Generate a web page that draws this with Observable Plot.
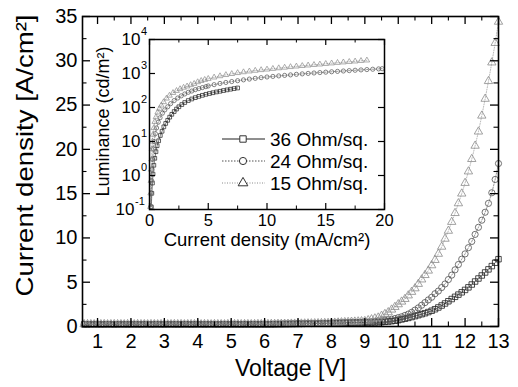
<!DOCTYPE html>
<html><head><meta charset="utf-8">
<script src="https://cdn.jsdelivr.net/npm/d3@7"></script>
<script src="https://cdn.jsdelivr.net/npm/@observablehq/plot@0.6"></script>
<style>
body{margin:0;background:#fff;}
#wrap{position:relative;width:518px;height:387px;overflow:hidden;background:#fff;}
</style></head><body><div id="wrap"></div>
<script>
// ---------- data ----------
const seriesNames = ["36 Ohm/sq.", "24 Ohm/sq.", "15 Ohm/sq."];

// main plot: voltage (V) and current density (A/cm2)
const voltage = [
  0.6,0.7,0.8,0.9,
  1.0,1.1,1.2,1.3,1.4,1.5,1.6,1.7,1.8,1.9,
  2.0,2.1,2.2,2.3,2.4,2.5,2.6,2.7,2.8,2.9,
  3.0,3.1,3.2,3.3,3.4,3.5,3.6,3.7,3.8,3.9,
  4.0,4.1,4.2,4.3,4.4,4.5,4.6,4.7,4.8,4.9,
  5.0,5.1,5.2,5.3,5.4,5.5,5.6,5.7,5.8,5.9,
  6.0,6.1,6.2,6.3,6.4,6.5,6.6,6.7,6.8,6.9,
  7.0,7.1,7.2,7.3,7.4,7.5,7.6,7.7,7.8,7.9,
  8.0,8.1,8.2,8.3,8.4,8.5,8.6,8.7,8.8,8.9,
  9.0,9.1,9.2,9.3,9.4,9.5,9.6,9.7,9.8,9.9,
  10.0,10.1,10.2,10.3,10.4,10.5,10.6,10.7,10.8,10.9,
  11.0,11.1,11.2,11.3,11.4,11.5,11.6,11.7,11.8,11.9,
  12.0,12.1,12.2,12.3,12.4,12.5,12.6,12.7,12.8,12.9,
  13.0
];
const j36 = [
  0.24,0.25,0.24,0.26,
  0.25,0.24,0.25,0.26,0.25,0.24,0.25,0.26,0.25,0.24,
  0.25,0.26,0.24,0.25,0.26,0.25,0.24,0.25,0.26,0.25,
  0.24,0.25,0.26,0.25,0.24,0.25,0.26,0.25,0.24,0.25,
  0.26,0.25,0.24,0.25,0.26,0.25,0.24,0.25,0.26,0.25,
  0.25,0.26,0.25,0.24,0.25,0.26,0.25,0.26,0.25,0.26,
  0.25,0.26,0.25,0.26,0.27,0.27,0.28,0.28,0.29,0.29,
  0.30,0.30,0.31,0.31,0.32,0.32,0.33,0.34,0.35,0.36,
  0.37,0.38,0.39,0.40,0.41,0.42,0.43,0.44,0.44,0.45,
  0.45,0.45,0.45,0.46,0.47,0.50,0.53,0.56,0.60,0.65,
  0.72,0.80,0.88,0.97,1.07,1.17,1.28,1.39,1.50,1.63,
  1.78,1.95,2.15,2.37,2.60,2.85,3.10,3.35,3.60,3.86,
  4.13,4.42,4.74,5.08,5.42,5.76,6.10,6.45,6.82,7.20,
  7.60
];
const j24 = [
  0.26,0.25,0.26,0.25,
  0.24,0.26,0.25,0.25,0.26,0.25,0.24,0.25,0.26,0.25,
  0.26,0.25,0.25,0.24,0.25,0.26,0.25,0.26,0.25,0.24,
  0.25,0.26,0.25,0.24,0.26,0.25,0.25,0.26,0.25,0.24,
  0.25,0.26,0.25,0.26,0.25,0.24,0.25,0.26,0.25,0.26,
  0.26,0.25,0.26,0.25,0.26,0.25,0.26,0.25,0.26,0.26,
  0.26,0.26,0.27,0.27,0.28,0.28,0.29,0.29,0.30,0.30,
  0.31,0.31,0.32,0.33,0.33,0.34,0.35,0.36,0.37,0.38,
  0.39,0.40,0.41,0.42,0.43,0.44,0.45,0.46,0.47,0.48,
  0.50,0.52,0.55,0.58,0.62,0.66,0.70,0.76,0.82,0.90,
  1.00,1.10,1.25,1.40,1.60,1.85,2.10,2.40,2.70,3.00,
  3.30,3.70,4.00,4.40,4.80,5.30,5.80,6.40,7.00,7.60,
  8.20,8.90,9.60,10.4,11.2,12.0,12.9,13.9,15.1,16.6,
  18.4
];
const j15 = [
  0.25,0.26,0.25,0.24,
  0.26,0.25,0.26,0.24,0.25,0.26,0.25,0.25,0.24,0.26,
  0.25,0.24,0.26,0.25,0.25,0.24,0.26,0.25,0.24,0.26,
  0.25,0.24,0.25,0.26,0.25,0.26,0.24,0.25,0.26,0.25,
  0.25,0.24,0.26,0.25,0.24,0.26,0.25,0.25,0.24,0.26,
  0.25,0.26,0.26,0.25,0.26,0.26,0.25,0.26,0.27,0.26,
  0.27,0.27,0.28,0.28,0.29,0.29,0.30,0.30,0.31,0.31,
  0.32,0.32,0.33,0.34,0.34,0.35,0.36,0.37,0.38,0.39,
  0.40,0.42,0.44,0.46,0.48,0.50,0.52,0.54,0.56,0.58,
  0.60,0.70,0.80,0.90,1.00,1.20,1.40,1.60,1.90,2.20,
  2.50,2.80,3.10,3.50,3.90,4.30,4.80,5.30,5.80,6.30,
  6.90,7.50,8.20,9.00,9.90,10.8,11.8,12.8,13.9,15.0,
  16.2,17.5,18.9,20.4,22.0,23.8,25.7,27.7,29.8,32.0,
  34.4
];

// inset: current density (mA/cm2) vs luminance (cd/m2)
const insetJ36 = [0.15,0.2,0.25,0.3,0.37,0.45,0.55,0.65,0.78,0.92,1.07,1.22,1.38,1.55,1.72,1.9,2.1,2.3,2.5,2.75,3.0,3.3,3.6,3.9,4.2,4.5,4.8,5.1,5.4,5.7,6.0,6.3,6.6,6.9,7.2,7.5];
const insetL36 = [0.12,0.3,0.6,1.1,2,3.2,5,7.5,10.5,15,20,27,34,42,52,63,76,90,105,122,140,160,178,195,212,228,244,258,272,287,300,315,330,345,360,375];
const insetJ24 = [0.12,0.15,0.18,0.22,0.27,0.33,0.4,0.5,0.6,0.75,0.9,1.1,1.3,1.55,1.8,2.1,2.4,2.7,3.0,3.3,3.6,3.9,4.2,4.5,4.8,
  5.0,5.5,6.0,6.5,7.0,7.5,8.0,8.5,9.0,9.5,10.0,10.5,11.0,11.5,12.0,12.5,13.0,13.5,14.0,14.5,15.0,15.5,16.0,16.5,17.0,17.5,18.0,18.5,19.0,19.5,19.8];
const insetL24 = [0.12,0.3,0.7,1.5,3,6,10,17,25,37,50,68,85,105,130,160,190,220,250,280,305,335,360,385,410,
  430,470,510,545,580,615,650,685,720,755,790,820,850,880,910,945,975,1005,1035,1065,1095,1125,1155,1185,1215,1245,1275,1305,1335,1365,1385];
const insetJ15 = [0.08,0.1,0.12,0.15,0.18,0.21,0.25,0.3,0.37,0.45,0.55,0.7,0.85,1.0,1.2,1.45,1.7,2.0,2.3,2.6,2.9,3.2,3.5,3.8,4.1,4.4,4.7,
  5.0,5.5,6.0,6.5,7.0,7.5,8.0,8.5,9.0,9.5,10.0,10.5,11.0,11.5,12.0,12.5,13.0,13.5,14.0,14.5,15.0,15.5,16.0,16.5,17.0,17.5,18.0,18.5];
const insetL15 = [0.12,0.3,0.7,1.5,3,6,10,16,25,38,52,72,92,115,145,185,225,270,310,350,385,420,460,500,560,610,655,
  700,770,840,910,975,1040,1100,1160,1215,1270,1320,1380,1440,1500,1560,1620,1680,1740,1800,1860,1930,2000,2070,2140,2210,2280,2360,2440];

// ticks and labels
const xMajor = [1,2,3,4,5,6,7,8,9,10,11,12,13];
const xMinor = [1.5,2.5,3.5,4.5,5.5,6.5,7.5,8.5,9.5,10.5,11.5,12.5];
const yMajor = [0,5,10,15,20,25,30,35];
const yMinor = [2.5,7.5,12.5,17.5,22.5,27.5,32.5];
const insetXMajor = [0,5,10,15,20];
const insetXMinor = [2.5,7.5,12.5,17.5];
const insetDecades = [0.1,1,10,100,1000,10000];
const insetExponents = ["-1","0","1","2","3","4"];
const xTitle = "Voltage [V]";
const yTitle = "Current density [A/cm²]";
const insetXTitle = "Current density (mA/cm²)";
const insetYTitle = "Luminance (cd/m²)";

// ---------- drawing ----------
const FONT = "'Liberation Sans', Arial, Helvetica, sans-serif";
const styles = [
  {symbol: "square",   stroke: "#1e1e1e", dash: null},
  {symbol: "circle",   stroke: "#505050", dash: "1.5,1.5"},
  {symbol: "triangle", stroke: "#8a8a8a", dash: "1,1.5"}
];
const mainData = [j36, j24, j15].map(J => voltage.map((v, i) => ({x: v, y: J[i]})));
const insetData = [[insetJ36, insetL36], [insetJ24, insetL24], [insetJ15, insetL15]]
  .map(([J, L]) => J.map((x, i) => ({x, y: L[i]})));

const W = 518, H = 387, mL = 82, mR = 20, mT = 16, mB = 61;
const fW = W - mL - mR, fH = H - mT - mB;

const wrap = document.getElementById("wrap");

const main = Plot.plot({
  width: W, height: H, marginLeft: mL, marginRight: mR, marginTop: mT, marginBottom: mB,
  style: {background: "transparent", fontFamily: FONT, color: "#000"},
  x: {domain: [0.55, 13], axis: null},
  y: {domain: [0, 35], axis: null},
  marks: [
    ...mainData.flatMap((d, k) => [
      Plot.line(d, {x: "x", y: "y", stroke: styles[k].stroke, strokeWidth: 0.6, strokeDasharray: styles[k].dash}),
      Plot.dot(d, {x: "x", y: "y", symbol: styles[k].symbol, r: 3.1, stroke: styles[k].stroke, strokeWidth: 0.8, fill: "none"})
    ]),
    Plot.ruleX(xMajor, {insetTop: fH - 8, strokeWidth: 1.3}),
    Plot.ruleX(xMajor, {insetBottom: fH - 8, strokeWidth: 1.3}),
    Plot.ruleX(xMinor, {insetTop: fH - 4.5, strokeWidth: 1.1}),
    Plot.ruleX(xMinor, {insetBottom: fH - 4.5, strokeWidth: 1.1}),
    Plot.ruleY(yMajor, {insetRight: fW - 8, strokeWidth: 1.3}),
    Plot.ruleY(yMajor, {insetLeft: fW - 8, strokeWidth: 1.3}),
    Plot.ruleY(yMinor, {insetRight: fW - 4.5, strokeWidth: 1.1}),
    Plot.ruleY(yMinor, {insetLeft: fW - 4.5, strokeWidth: 1.1}),
    Plot.axisX(xMajor, {tickSize: 0, tickPadding: 7, fontSize: 20, label: null}),
    Plot.axisY(yMajor, {tickSize: 0, tickPadding: 5, fontSize: 20, label: null}),
    Plot.frame({strokeWidth: 1.6}),
    Plot.text([xTitle], {text: d => d, frameAnchor: "bottom", dy: 42, lineAnchor: "middle", textAnchor: "middle", fontSize: 23}),
    Plot.text([yTitle], {text: d => d, frameAnchor: "left", dx: -57, dy: -16, rotate: -90, lineAnchor: "middle", textAnchor: "middle", fontSize: 24})
  ]
});
d3.select(main).selectAll("text").filter(function () { return this.textContent === yTitle; })
  .attr("textLength", 282).attr("lengthAdjust", "spacingAndGlyphs");
main.style.position = "absolute"; main.style.left = "0px"; main.style.top = "0px";
wrap.appendChild(main);

// inset: frame spans x 149..384, y 39..209 on the page
const insLeft = 80, insTop = 18;
const iW = 315, iH = 235, iL = 149 - insLeft, iT = 39 - insTop, iR = insLeft + iW - 384, iB = insTop + iH - 209;
const ifW = iW - iL - iR, ifH = iH - iT - iB;
const inset = Plot.plot({
  width: iW, height: iH, marginLeft: iL, marginRight: iR, marginTop: iT, marginBottom: iB,
  style: {background: "transparent", fontFamily: FONT, color: "#000"},
  x: {domain: [0, 20], axis: null},
  y: {type: "log", domain: [0.1, 10000], axis: null},
  marks: [
    ...insetData.flatMap((d, k) => [
      Plot.line(d, {x: "x", y: "y", stroke: styles[k].stroke, strokeWidth: 0.6, strokeDasharray: styles[k].dash}),
      Plot.dot(d, {x: "x", y: "y", symbol: styles[k].symbol, r: 2.1, stroke: styles[k].stroke, strokeWidth: 0.7, fill: "none"})
    ]),
    Plot.ruleX(insetXMajor, {insetTop: ifH - 6, strokeWidth: 1.2}),
    Plot.ruleX(insetXMajor, {insetBottom: ifH - 6, strokeWidth: 1.2}),
    Plot.ruleX(insetXMinor, {insetTop: ifH - 3.5}),
    Plot.ruleX(insetXMinor, {insetBottom: ifH - 3.5}),
    Plot.ruleY(insetDecades, {insetRight: ifW - 6, strokeWidth: 1.2}),
    Plot.ruleY(insetDecades, {insetLeft: ifW - 6, strokeWidth: 1.2}),
    Plot.axisX(insetXMajor, {tickSize: 0, tickPadding: 5, fontSize: 16.5, label: null}),
    Plot.text(insetDecades.filter((d, i) => insetExponents[i] !== "-1"), {y: d => d, text: () => "10", frameAnchor: "left", textAnchor: "end", dx: -9, fontSize: 17}),
    Plot.text(insetDecades.filter((d, i) => insetExponents[i] === "-1"), {y: d => d, text: () => "10", frameAnchor: "left", textAnchor: "end", dx: -15, fontSize: 17}),
    Plot.text(insetDecades.filter((d, i) => insetExponents[i] !== "-1"), {y: d => d, text: d => insetExponents[insetDecades.indexOf(d)], frameAnchor: "left", textAnchor: "start", dx: -8.5, dy: -8, fontSize: 11}),
    Plot.text(insetDecades.filter((d, i) => insetExponents[i] === "-1"), {y: d => d, text: d => insetExponents[insetDecades.indexOf(d)], frameAnchor: "left", textAnchor: "start", dx: -14.5, dy: -8, fontSize: 11}),
    Plot.frame({strokeWidth: 1.5}),
    Plot.text([insetXTitle], {text: d => d, frameAnchor: "bottom", dy: 31, lineAnchor: "middle", textAnchor: "middle", fontSize: 18.5}),
    Plot.text([insetYTitle], {text: d => d, frameAnchor: "left", dx: -46, dy: -3, rotate: -90, lineAnchor: "middle", textAnchor: "middle", fontSize: 18})
  ]
});
inset.style.position = "absolute"; inset.style.left = insLeft + "px"; inset.style.top = insTop + "px";
wrap.appendChild(inset);

// legend (inside the inset)
const leg = d3.create("svg").attr("width", W).attr("height", H)
  .style("position", "absolute").style("left", "0px").style("top", "0px")
  .style("font-family", FONT);
const symbolTypes = {square: d3.symbolSquare, circle: d3.symbolCircle, triangle: d3.symbolTriangle};
seriesNames.forEach((name, k) => {
  const y = 139 + k * 22;
  leg.append("line").attr("x1", 222).attr("x2", 265).attr("y1", y).attr("y2", y)
    .attr("stroke", styles[k].stroke).attr("stroke-width", 1).attr("stroke-dasharray", styles[k].dash);
  leg.append("path").attr("d", d3.symbol(symbolTypes[styles[k].symbol], Math.PI * 3.6 * 3.6)())
    .attr("transform", `translate(243,${y})`).attr("fill", "#fff").attr("stroke", "#333").attr("stroke-width", 1);
  leg.append("text").attr("x", 270).attr("y", y).attr("dy", "0.35em").attr("font-size", 19).text(name);
});
wrap.appendChild(leg.node());
</script>
</body></html>
